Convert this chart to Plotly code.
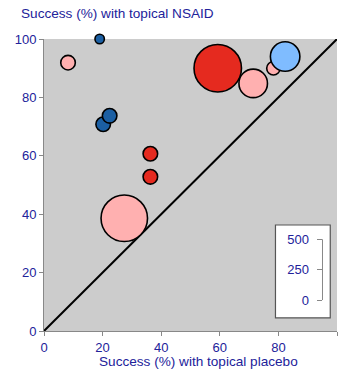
import plotly.graph_objects as go

# Data (drawing order matters for overlaps)
placebo = [20.2, 22.4, 19.0, 8.2, 36.3, 36.3, 27.4, 59.3, 71.4, 78.3, 82.3]
nsaid = [70.8, 73.7, 100.0, 91.9, 60.7, 52.8, 38.6, 90.0, 84.8, 90.0, 94.0]
patients = [48, 48, 20, 48, 48, 48, 489, 510, 184, 41, 197]
colors = ["#1b5fa3", "#1b5fa3", "#1b5fa3", "#ffb0b0", "#e52a1f", "#e52a1f",
          "#ffb0b0", "#e52a1f", "#ffb0b0", "#ffb0b0", "#7fbcff"]

axis_ticks = [0, 20, 40, 60, 80, 100]
scale_ticks = [0, 250, 500]

navy = "#22229a"
gray = "#888888"
font = "Liberation Sans, Arial, sans-serif"

# size-scale axis placement (paper fractions)
scale_lo, scale_hi = 0.106, 0.314
span = scale_ticks[-1] / (scale_hi - scale_lo)
y2_range = [-scale_lo * span, (1 - scale_lo) * span]
scale_x = 0.9505

fig = go.Figure()

fig.add_trace(go.Scatter(x=[0, 100], y=[0, 100], mode="lines",
                         line=dict(color="black", width=2), hoverinfo="skip",
                         showlegend=False))

fig.add_trace(go.Scatter(
    x=placebo, y=nsaid, mode="markers", showlegend=False,
    marker=dict(size=patients, sizemode="area", sizeref=2 * 500 / 47 ** 2,
                color=colors, opacity=1,
                line=dict(color="black", width=1.6)),
    cliponaxis=False,
))

# invisible trace so the size-scale axis is drawn
fig.add_trace(go.Scatter(x=[90] * len(scale_ticks), y=scale_ticks, yaxis="y2",
                         mode="markers", marker=dict(size=1, opacity=0),
                         hoverinfo="skip", showlegend=False))

# legend box
fig.add_shape(type="rect", xref="x", yref="y", x0=79.0, x1=97.7, y0=4.5, y1=36.3,
              line=dict(color="#555555", width=1.2), fillcolor="white", layer="below")
# bracket line of the size scale
fig.add_shape(type="line", xref="paper", yref="y2", x0=scale_x, x1=scale_x,
              y0=scale_ticks[0], y1=scale_ticks[-1],
              line=dict(color=gray, width=1))

fig.update_layout(
    width=346, height=371,
    margin=dict(l=44, r=9, t=39, b=40),
    paper_bgcolor="white", plot_bgcolor="#cccccc",
    font=dict(family=font, size=13, color=navy),
    xaxis=dict(range=[0, 100], tickvals=axis_ticks, ticks="outside", ticklen=4,
               tickcolor=gray, showline=True, linecolor=gray, linewidth=1,
               showgrid=False, zeroline=False, automargin=False,
               tickfont=dict(color=navy, size=13)),
    yaxis=dict(range=[0, 100], tickvals=axis_ticks, ticks="outside", ticklen=4,
               tickcolor=gray, showline=True, linecolor=gray, linewidth=1,
               showgrid=False, zeroline=False, automargin=False,
               tickfont=dict(color=navy, size=13)),
    yaxis2=dict(range=y2_range, tickvals=scale_ticks, overlaying="y",
                anchor="free", position=scale_x, side="left", ticks="outside",
                ticklen=5, tickcolor=gray, showline=False,
                showgrid=False, zeroline=False, automargin=False,
                ticklabelstandoff=6,
                tickfont=dict(color=navy, size=13)),
    annotations=[
        dict(text="Success (%) with topical NSAID", xref="paper", yref="paper",
             x=(19 - 44) / 293, y=(332 - 14) / 292, xanchor="left", yanchor="middle",
             showarrow=False, font=dict(size=13.6, color=navy)),
        dict(text="Success (%) with topical placebo", xref="paper", yref="paper",
             x=(198 - 44) / 293, y=(332 - 362) / 292, xanchor="center", yanchor="middle",
             showarrow=False, font=dict(size=13.6, color=navy)),
    ],
)

fig.write_html("out.html", config={"displayModeBar": False},
               post_script="document.body.style.margin='0';document.body.style.overflow='hidden';")
